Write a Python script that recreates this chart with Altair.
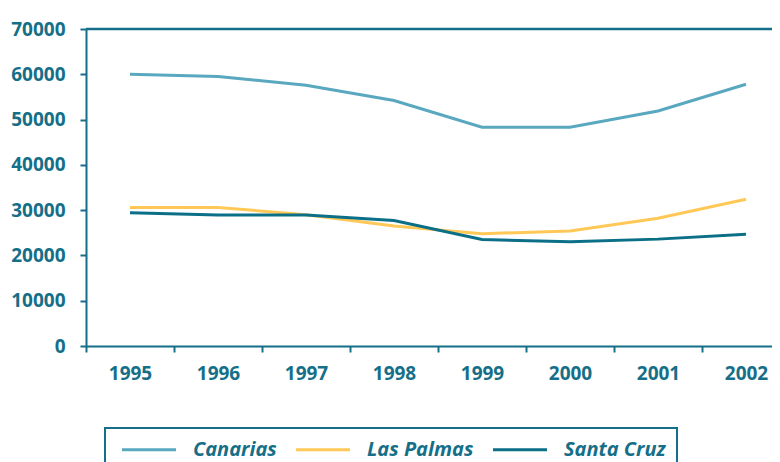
import altair as alt
import pandas as pd

years = ["1995", "1996", "1997", "1998", "1999", "2000", "2001", "2002"]
canarias = [60000, 59500, 57600, 54200, 48300, 48300, 51900, 57800]
las_palmas = [30600, 30600, 29000, 26500, 24800, 25400, 28200, 32400]
santa_cruz = [29400, 28900, 28900, 27700, 23500, 23000, 23600, 24700]
series = ["Canarias", "Las Palmas", "Santa Cruz"]
colors = ["#5AA8BF", "#FFC857", "#0B6F88"]
y_ticks = [0, 10000, 20000, 30000, 40000, 50000, 60000, 70000]

rows = []
for name, vals in zip(series, [canarias, las_palmas, santa_cruz]):
    for yr, v in zip(years, vals):
        rows.append({"year": yr, "value": v, "serie": name})
df = pd.DataFrame(rows)

AX = "#156F88"
FONT = "Open Sans"

xscale = alt.Scale(type="band", domain=years, paddingInner=0, paddingOuter=0, range=[0, 704])
yscale = alt.Scale(domain=[0, 70000], nice=False)

lines = alt.Chart(df).mark_line(strokeWidth=3).encode(
    x=alt.X("year:O", scale=xscale, bandPosition=0.5, sort=years,
            axis=alt.Axis(title=None, labelAngle=0, tickBand="extent",
                          labelPadding=12, tickSize=6)),
    y=alt.Y("value:Q", scale=yscale,
            axis=alt.Axis(title=None, values=y_ticks, grid=False, format="d",
                          labelPadding=15, tickSize=6)),
    color=alt.Color("serie:N", sort=series,
                    scale=alt.Scale(domain=series, range=colors),
                    legend=alt.Legend(title=None, orient="none", legendX=19, legendY=399,
                                      direction="horizontal")),
)

top = alt.Chart(pd.DataFrame({"v": [70000]})).mark_rule(color=AX, strokeWidth=2.5).encode(
    x=alt.value(0), x2=alt.value(704),
    y=alt.Y("v:Q", scale=yscale)
)

chart = alt.layer(top, lines).properties(
    width=686, height=317,
    autosize=alt.AutoSizeParams(type="none"),
    padding={"left": 78, "top": 21, "right": 0, "bottom": 130},
).configure_view(stroke=None).configure_axis(
    domainColor=AX, domainWidth=2, tickColor=AX, tickWidth=2,
    labelColor=AX, labelFont=FONT, labelFontSize=19, labelFontWeight="bold",
).configure_legend(
    strokeColor=AX, strokeWidth=2, padding=11,
    labelFont=FONT, labelFontSize=20, labelFontWeight="bold", labelFontStyle="italic",
    labelColor=AX, symbolType="M-0.5,0H5.5", symbolSize=324, symbolStrokeWidth=3,
    labelOffset=56, columnPadding=13, labelLimit=300,
)

chart.save("out.html", embed_options={"renderer": "svg", "actions": False})
